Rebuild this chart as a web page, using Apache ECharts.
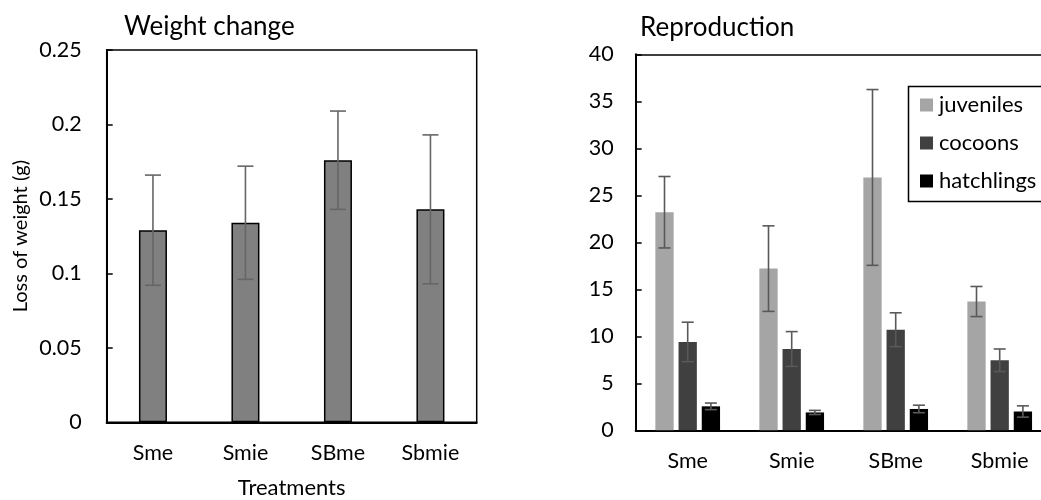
<!DOCTYPE html>
<html>
<head>
<meta charset="utf-8">
<script src="https://cdn.jsdelivr.net/npm/echarts@6/dist/echarts.min.js"></script>
<style>
  html, body { margin: 0; padding: 0; background: #fff; }
  #chart { width: 1041px; height: 500px; }
</style>
</head>
<body>
<div id="chart"></div>
<script>
// Treatments shared by both panels
const treatments = ['Sme', 'Smie', 'SBme', 'Sbmie'];

// Weight change panel: mean loss of weight (g) and its error
const weightLoss = [0.129, 0.134, 0.176, 0.143];
const weightErr = [0.037, 0.038, 0.033, 0.050];

// Reproduction panel: counts per treatment and their errors
const juveniles = [23.2, 17.2, 26.9, 13.7];
const juvenilesErr = [3.8, 4.55, 9.35, 1.6];
const cocoons = [9.4, 8.65, 10.7, 7.45];
const cocoonsErr = [2.1, 1.85, 1.8, 1.2];
const hatchlings = [2.55, 1.9, 2.27, 2.0];
const hatchlingsErr = [0.35, 0.22, 0.4, 0.6];

// Axis tick settings
const weightTicks = { min: 0, max: 0.25, interval: 0.05 };
const reproTicks = { min: 0, max: 40, interval: 5 };

const FONT = 'Lato';
const BAR_W = 18.3;
const BAR_STEP = 23.2;

function errData(vals, errs) {
  return vals.map((v, i) => [i, v - errs[i], v + errs[i]]);
}

function errorSeries(name, xAxisIndex, yAxisIndex, data, offset, capW, color) {
  return {
    type: 'custom',
    name: name,
    xAxisIndex: xAxisIndex,
    yAxisIndex: yAxisIndex,
    z: 5,
    silent: true,
    data: data,
    renderItem: function (params, api) {
      const lo = api.coord([api.value(0), api.value(1)]);
      const hi = api.coord([api.value(0), api.value(2)]);
      const x = lo[0] + offset;
      const st = { stroke: color, lineWidth: 1.6 };
      return {
        type: 'group',
        children: [
          { type: 'line', shape: { x1: x, y1: lo[1], x2: x, y2: hi[1] }, style: st },
          { type: 'line', shape: { x1: x - capW / 2, y1: lo[1], x2: x + capW / 2, y2: lo[1] }, style: st },
          { type: 'line', shape: { x1: x - capW / 2, y1: hi[1], x2: x + capW / 2, y2: hi[1] }, style: st }
        ]
      };
    }
  };
}

const chart = echarts.init(document.getElementById('chart'), null, { renderer: 'canvas' });

const axisLabelStyle = { color: '#000', fontFamily: FONT, fontSize: 21.5 };

chart.setOption({
  animation: false,
  backgroundColor: '#fff',
  title: [
    { text: 'Weight change', left: 119, top: 9, textStyle: { fontFamily: FONT, fontSize: 26, fontWeight: 'normal', color: '#000' } },
    { text: 'Reproduction', left: 635, top: 10, textStyle: { fontFamily: FONT, fontSize: 26, fontWeight: 'normal', color: '#000' } }
  ],
  // frame around the legend; it runs past the right edge of the canvas
  graphic: [
    { type: 'rect', left: 906, top: 84, shape: { width: 160, height: 115 }, style: { fill: 'none', stroke: '#000', lineWidth: 1.5 }, z: 10 }
  ],
  legend: {
    data: ['juveniles', 'cocoons', 'hatchlings'],
    orient: 'vertical',
    left: 906,
    top: 84,
    icon: 'rect',
    itemWidth: 13,
    itemHeight: 13,
    itemGap: 16,
    padding: [10, 0, 7, 14],
    textStyle: { fontFamily: FONT, fontSize: 22, color: '#000', padding: [0, 0, 0, 1] }
  },
  grid: [
    { left: 106.7, top: 50, width: 370, height: 372.3, show: true, borderColor: '#000', borderWidth: 1.5, containLabel: false, outerBoundsMode: 'none' },
    { left: 635.7, top: 54.3, width: 416, height: 376, show: false, containLabel: false, outerBoundsMode: 'none' }
  ],
  xAxis: [
    {
      type: 'category', gridIndex: 0, data: treatments,
      axisLine: { lineStyle: { color: '#000', width: 2 } },
      axisTick: { show: false },
      axisLabel: Object.assign({ margin: 20 }, axisLabelStyle),
      name: 'Treatments', nameLocation: 'middle', nameGap: 55,
      nameTextStyle: { fontFamily: FONT, fontSize: 22, color: '#000' }
    },
    {
      type: 'category', gridIndex: 1, data: treatments,
      axisLine: { lineStyle: { color: '#000', width: 2 } },
      axisTick: { show: false },
      axisLabel: Object.assign({ margin: 20 }, axisLabelStyle)
    },
    {
      // top frame line of the reproduction panel
      type: 'category', gridIndex: 1, data: treatments, position: 'top',
      axisLine: { lineStyle: { color: '#000', width: 1.5 } },
      axisTick: { show: false },
      axisLabel: { show: false }
    }
  ],
  yAxis: [
    {
      type: 'value', gridIndex: 0,
      min: weightTicks.min, max: weightTicks.max, interval: weightTicks.interval,
      splitLine: { show: false },
      axisLine: { show: true, lineStyle: { color: '#000', width: 2 } },
      axisTick: { show: true, inside: true, length: 6, lineStyle: { color: '#000', width: 1.5 } },
      axisLabel: Object.assign({ margin: 25 }, axisLabelStyle),
      name: 'Loss of weight (g)', nameLocation: 'middle', nameGap: 76, nameRotate: 90,
      nameTextStyle: { fontFamily: FONT, fontSize: 20, color: '#000' }
    },
    {
      type: 'value', gridIndex: 1,
      min: reproTicks.min, max: reproTicks.max, interval: reproTicks.interval,
      splitLine: { show: false },
      axisLine: { show: true, lineStyle: { color: '#000', width: 2 } },
      axisTick: { show: true, inside: true, length: 6, lineStyle: { color: '#000', width: 1.5 } },
      axisLabel: Object.assign({ margin: 22 }, axisLabelStyle)
    }
  ],
  series: [
    {
      type: 'bar', name: 'Weight change', xAxisIndex: 0, yAxisIndex: 0,
      data: weightLoss, barWidth: 28,
      itemStyle: { color: '#808080', borderColor: '#000', borderWidth: 1.5 }
    },
    errorSeries('weightErr', 0, 0, errData(weightLoss, weightErr), 0, 16, '#666'),
    {
      type: 'bar', name: 'juveniles', xAxisIndex: 1, yAxisIndex: 1,
      data: juveniles, barWidth: BAR_W, barGap: ((BAR_STEP - BAR_W) / BAR_W * 100) + '%',
      itemStyle: { color: '#a5a5a5' }
    },
    {
      type: 'bar', name: 'cocoons', xAxisIndex: 1, yAxisIndex: 1,
      data: cocoons, barWidth: BAR_W,
      itemStyle: { color: '#404040' }
    },
    {
      type: 'bar', name: 'hatchlings', xAxisIndex: 1, yAxisIndex: 1,
      data: hatchlings, barWidth: BAR_W,
      itemStyle: { color: '#000' }
    },
    errorSeries('juvErr', 1, 1, errData(juveniles, juvenilesErr), -BAR_STEP, 12, '#595959'),
    errorSeries('cocErr', 1, 1, errData(cocoons, cocoonsErr), 0, 12, '#595959'),
    errorSeries('hatErr', 1, 1, errData(hatchlings, hatchlingsErr), BAR_STEP, 12, '#595959')
  ]
});
</script>
</body>
</html>
